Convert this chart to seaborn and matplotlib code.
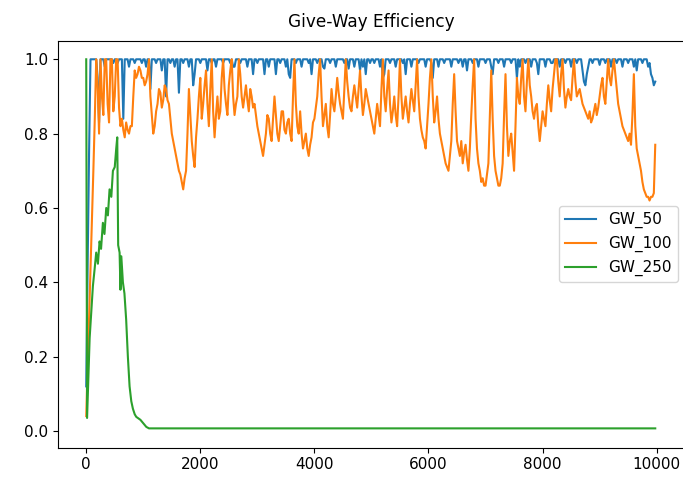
import numpy as np
import pandas as pd
import matplotlib
matplotlib.use("Agg")
import matplotlib.pyplot as plt
import seaborn as sns

# time steps (every 25 steps)
steps = list(range(0, 10000, 25))

gw_50 = [
    0.12, 0.45, 0.75, 1.0, 1.0, 1.0, 1.0, 1.0, 0.95, 0.83, 1.0, 1.0, 1.0, 0.98, 1.0, 1.0, 1.0, 1.0, 1.0, 0.99,
    1.0, 1.0, 0.99, 1.0, 1.0, 1.0, 0.84, 1.0, 1.0, 1.0, 0.98, 1.0, 1.0, 1.0, 0.99, 1.0, 1.0, 1.0, 1.0, 0.99,
    1.0, 1.0, 0.98, 1.0, 1.0, 0.92, 1.0, 1.0, 1.0, 0.99, 1.0, 1.0, 1.0, 0.97, 1.0, 1.0, 0.9, 1.0, 1.0, 0.99,
    1.0, 1.0, 0.98, 1.0, 1.0, 0.91, 1.0, 1.0, 0.99, 1.0, 1.0, 1.0, 0.98, 1.0, 1.0, 0.93, 0.96, 1.0, 1.0, 1.0,
    0.99, 1.0, 1.0, 1.0, 1.0, 0.97, 1.0, 1.0, 0.99, 1.0, 1.0, 0.98, 1.0, 1.0, 1.0, 1.0, 0.99, 1.0, 1.0, 1.0,
    1.0, 0.99, 1.0, 0.98, 0.98, 1.0, 1.0, 1.0, 0.99, 1.0, 1.0, 1.0, 1.0, 0.98, 1.0, 1.0, 1.0, 0.96, 1.0, 1.0,
    0.99, 1.0, 1.0, 1.0, 1.0, 0.96, 1.0, 1.0, 0.98, 1.0, 1.0, 1.0, 1.0, 0.96, 1.0, 1.0, 0.99, 1.0, 1.0, 1.0,
    0.98, 1.0, 0.96, 0.95, 1.0, 1.0, 1.0, 0.99, 1.0, 1.0, 1.0, 0.98, 1.0, 1.0, 1.0, 1.0, 0.99, 1.0, 0.96, 1.0,
    1.0, 1.0, 0.99, 1.0, 1.0, 1.0, 0.98, 0.975, 1.0, 1.0, 1.0, 0.99, 1.0, 1.0, 1.0, 0.98, 1.0, 1.0, 1.0, 1.0,
    1.0, 0.99, 1.0, 1.0, 0.975, 1.0, 1.0, 1.0, 0.98, 1.0, 1.0, 1.0, 0.97, 1.0, 0.98, 1.0, 0.96, 1.0, 1.0, 0.99,
    1.0, 1.0, 0.99, 1.0, 1.0, 1.0, 0.98, 1.0, 0.95, 0.96, 1.0, 1.0, 1.0, 0.99, 1.0, 1.0, 1.0, 0.98, 1.0, 1.0,
    1.0, 1.0, 0.99, 1.0, 0.96, 1.0, 1.0, 1.0, 0.98, 1.0, 1.0, 1.0, 1.0, 0.99, 1.0, 1.0, 1.0, 1.0, 0.98, 1.0,
    1.0, 1.0, 0.99, 0.95, 1.0, 1.0, 1.0, 0.98, 1.0, 1.0, 1.0, 0.99, 1.0, 1.0, 1.0, 1.0, 0.98, 1.0, 1.0, 1.0,
    1.0, 0.99, 1.0, 1.0, 0.98, 1.0, 1.0, 0.97, 1.0, 1.0, 1.0, 0.99, 1.0, 1.0, 1.0, 0.98, 1.0, 1.0, 1.0, 1.0,
    0.99, 1.0, 1.0, 1.0, 0.98, 0.96, 1.0, 1.0, 1.0, 0.99, 1.0, 1.0, 1.0, 0.98, 1.0, 1.0, 1.0, 1.0, 0.99, 1.0,
    1.0, 1.0, 0.95, 1.0, 0.98, 1.0, 1.0, 1.0, 0.99, 1.0, 1.0, 1.0, 0.98, 1.0, 1.0, 1.0, 0.99, 0.96, 1.0, 1.0,
    1.0, 1.0, 0.98, 1.0, 1.0, 1.0, 0.99, 0.99, 1.0, 1.0, 1.0, 1.0, 0.98, 1.0, 1.0, 1.0, 0.99, 1.0, 1.0, 1.0,
    0.98, 1.0, 1.0, 1.0, 0.99, 1.0, 1.0, 1.0, 0.97, 0.94, 0.93, 0.96, 0.98, 1.0, 1.0, 0.99, 1.0, 1.0, 1.0, 1.0,
    0.985, 1.0, 1.0, 1.0, 0.99, 1.0, 1.0, 1.0, 0.98, 1.0, 1.0, 1.0, 0.99, 1.0, 1.0, 1.0, 0.98, 1.0, 1.0, 1.0,
    0.99, 1.0, 1.0, 1.0, 0.98, 1.0, 0.97, 1.0, 1.0, 1.0, 0.99, 1.0, 1.0, 1.0, 0.98, 0.99, 0.96, 0.95, 0.93, 0.94,
]

gw_100 = [
    0.04, 0.17, 0.3, 0.43, 0.56, 0.7, 0.84, 1.0, 0.93, 0.8, 1.0, 0.9, 0.85, 1.0, 1.0, 0.88, 0.83, 1.0, 1.0, 0.86,
    0.9, 1.0, 1.0, 0.87, 0.82, 0.84, 0.81, 0.79, 0.83, 0.81, 0.8, 0.82, 0.82, 0.9, 0.97, 0.95, 0.96, 0.98, 0.97, 0.95,
    0.95, 0.93, 0.94, 0.96, 1.0, 0.9, 0.85, 0.8, 0.82, 0.86, 0.88, 0.92, 0.91, 0.87, 0.89, 0.93, 0.92, 0.89, 0.88, 0.84,
    0.8, 0.78, 0.76, 0.74, 0.72, 0.7, 0.69, 0.67, 0.65, 0.68, 0.7, 0.8, 0.92, 0.85, 0.78, 0.74, 0.71, 0.79, 0.84, 0.9,
    0.95, 0.84, 0.88, 0.93, 0.97, 0.88, 0.82, 0.92, 1.0, 0.86, 0.79, 0.85, 0.9, 0.84, 0.86, 0.95, 1.0, 0.92, 0.88, 0.85,
    0.93, 0.97, 1.0, 0.9, 0.85, 0.88, 0.9, 1.0, 0.96, 0.9, 0.87, 0.9, 0.93, 0.89, 0.86, 0.92, 0.9, 0.87, 0.88, 0.85,
    0.82, 0.8, 0.78, 0.76, 0.74, 0.77, 0.8, 0.85, 0.84, 0.8, 0.78, 0.84, 0.9, 0.85, 0.8, 0.78, 0.82, 0.86, 0.86, 0.81,
    0.8, 0.83, 0.84, 0.8, 0.78, 0.9, 1.0, 0.88, 0.82, 0.8, 0.86, 0.8, 0.76, 0.78, 0.8, 0.76, 0.74, 0.77, 0.79, 0.83,
    0.84, 0.87, 0.9, 0.96, 1.0, 0.9, 0.82, 0.85, 0.88, 0.82, 0.79, 0.85, 0.92, 0.88, 0.86, 0.9, 0.95, 0.91, 0.88, 0.86,
    0.84, 0.92, 1.0, 0.94, 0.9, 0.87, 0.86, 0.9, 0.93, 0.9, 0.87, 0.92, 0.97, 0.9, 0.85, 0.88, 0.92, 0.9, 0.88, 0.86,
    0.84, 0.82, 0.8, 0.84, 0.88, 0.85, 0.82, 0.92, 1.0, 0.9, 0.86, 0.92, 0.97, 0.88, 0.83, 0.86, 0.9, 0.85, 0.82, 0.9,
    1.0, 0.9, 0.84, 0.87, 0.9, 0.86, 0.83, 0.88, 0.92, 0.89, 0.86, 0.93, 1.0, 0.9, 0.84, 0.81, 0.79, 0.78, 0.76, 0.82,
    0.88, 0.95, 1.0, 0.9, 0.83, 0.86, 0.9, 0.84, 0.8, 0.78, 0.76, 0.74, 0.72, 0.71, 0.7, 0.74, 0.78, 0.88, 0.96, 0.86,
    0.78, 0.76, 0.74, 0.78, 0.72, 0.75, 0.77, 0.73, 0.7, 0.76, 0.85, 0.93, 1.0, 0.84, 0.76, 0.72, 0.7, 0.67, 0.68, 0.66,
    0.66, 0.69, 0.72, 0.85, 0.97, 0.84, 0.74, 0.7, 0.68, 0.66, 0.66, 0.68, 0.72, 0.85, 0.96, 0.82, 0.74, 0.78, 0.8, 0.75,
    0.7, 0.82, 0.95, 0.9, 0.88, 0.95, 1.0, 0.9, 0.86, 0.94, 1.0, 0.93, 0.9, 0.86, 0.84, 0.87, 0.88, 0.82, 0.78, 0.82,
    0.86, 0.84, 0.82, 0.88, 0.93, 0.89, 0.86, 0.92, 0.96, 1.0, 1.0, 0.94, 0.9, 0.96, 1.0, 0.92, 0.87, 0.9, 0.92, 0.9,
    0.89, 0.95, 1.0, 0.94, 0.9, 0.91, 0.92, 0.9, 0.88, 0.87, 0.86, 0.85, 0.84, 0.86, 0.83, 0.84, 0.86, 0.88, 0.85, 0.87,
    0.9, 0.93, 0.95, 0.9, 0.88, 0.94, 1.0, 0.95, 0.93, 0.97, 1.0, 0.96, 0.92, 0.88, 0.86, 0.84, 0.82, 0.81, 0.8, 0.79,
    0.78, 0.8, 0.77, 0.85, 0.96, 0.82, 0.76, 0.74, 0.72, 0.7, 0.67, 0.65, 0.64, 0.63, 0.63, 0.62, 0.63, 0.63, 0.64, 0.77,
]

gw_250_steps = [0, 15, 60, 117, 150, 175, 205, 234, 260, 292, 320, 351, 380,
                409, 440, 468, 500, 526, 544, 560, 585, 600, 615, 643, 670,
                700, 730, 760, 790, 818, 850, 877, 950, 1053, 1100, 9975]
gw_250 = [1.0, 0.035, 0.25, 0.39, 0.44, 0.48, 0.45, 0.51, 0.49, 0.56, 0.53,
          0.6, 0.58, 0.65, 0.63, 0.7, 0.71, 0.76, 0.79, 0.5, 0.48, 0.38,
          0.47, 0.4, 0.37, 0.3, 0.2, 0.12, 0.08, 0.06, 0.045, 0.038, 0.03,
          0.011, 0.007, 0.007]

series_names = ["GW_50", "GW_100", "GW_250"]
colors = ["#1f77b4", "#ff7f0e", "#2ca02c"]

df = pd.concat([
    pd.DataFrame({"step": steps, "value": gw_50, "series": "GW_50"}),
    pd.DataFrame({"step": steps, "value": gw_100, "series": "GW_100"}),
    pd.DataFrame({"step": gw_250_steps, "value": gw_250, "series": "GW_250"}),
], ignore_index=True)

plt.rcParams.update({
    "font.family": ["DejaVu Sans"],
    "xtick.labelsize": 11,
    "ytick.labelsize": 11,
    "legend.fontsize": 11,
    "axes.titlesize": 12.2,
})

fig = plt.figure(figsize=(6.83, 4.79), dpi=100)
ax = fig.add_axes([57.7 / 683, 1 - 447.7 / 479, (685.2 - 57.7) / 683, (447.7 - 40.7) / 479])

sns.lineplot(data=df, x="step", y="value", hue="series", hue_order=series_names,
             palette=colors, estimator=None, linewidth=1.5, ax=ax)

ax.set_xlim(-500, 10500)
ax.set_ylim(-0.045, 1.05)
ax.set_xlabel("")
ax.set_ylabel("")
ax.set_title("Give-Way Efficiency", pad=10)
sns.move_legend(ax, "center right", title=None)

fig.savefig("out.png", dpi=100)
